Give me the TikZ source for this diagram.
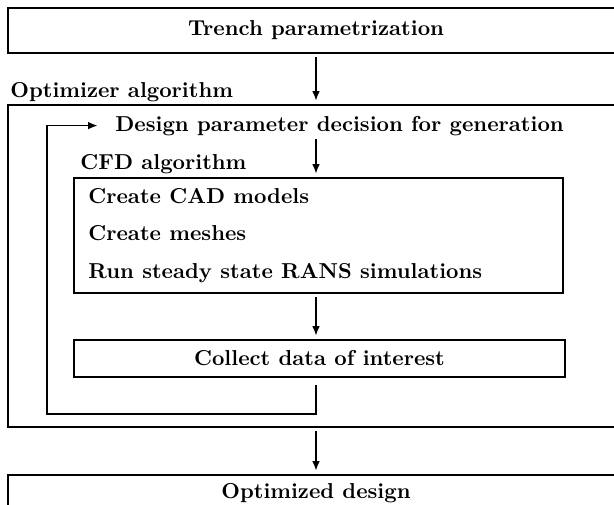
\documentclass[tikz,border=0pt]{standalone}
\usetikzlibrary{arrows.meta,fit,positioning}

\tikzset{
	box/.style={draw, line width=0.9pt, inner sep=0pt},
	every label/.style={font=\bfseries},
	flow/.style={line width=0.8pt, -{Latex[length=4.5pt,width=3.6pt]}, shorten <=1.5pt, shorten >=1.5pt},
	title/.style={font=\bfseries, anchor=base west, inner sep=0pt},
}

\begin{document}
\begin{tikzpicture}[x=0.463pt,y=-0.463pt]
	\useasboundingbox (0,0) rectangle (614,505);
	\clip (0,0) rectangle (614,505);
	
	% boxes
	\node[box, fit={(8,8) (624,53)}, label={center:Trench parametrization}] (trench) {};
	\node[box, fit={(8,105) (624,427)}] (optimizer) {};
	\node[box, fit={(74,178) (563,293)}] (cfd) {};
	\node[box, fit={(74,340) (565,377)}, label={center:Collect data of interest}] (collect) {};
	\node[box, fit={(8,475) (624,512)}, label={center:Optimized design}] (optimized) {};
	
	% labels
	\node[title] (optlabel) at (10,97) {Optimizer algorithm};
	\node[title] (design) at (115,131) {Design parameter decision for generation};
	\node[title] (cfdlabel) at (80,169) {CFD algorithm};
	\node[title] (cad) at (88,203) {Create CAD models};
	\node[title] (mesh) at (88,240) {Create meshes};
	\node[title] (rans) at (88,278) {Run steady state RANS simulations};
	
	% connectors
	\coordinate (loop) at (47,414);
	\draw[flow] (trench) -- (optimizer);
	\draw[flow] (design.south -| trench.south) -- (cfd.north -| trench.south);
	\draw[flow] (cfd.south -| trench.south) -- (collect.north -| trench.south);
	\draw[flow, shorten <=3.2pt, shorten >=8pt] (collect.south -| trench.south) |- (loop) |- (design.west);
	\draw[flow] (optimizer.south) -- (optimized.north);
\end{tikzpicture}
\end{document}
